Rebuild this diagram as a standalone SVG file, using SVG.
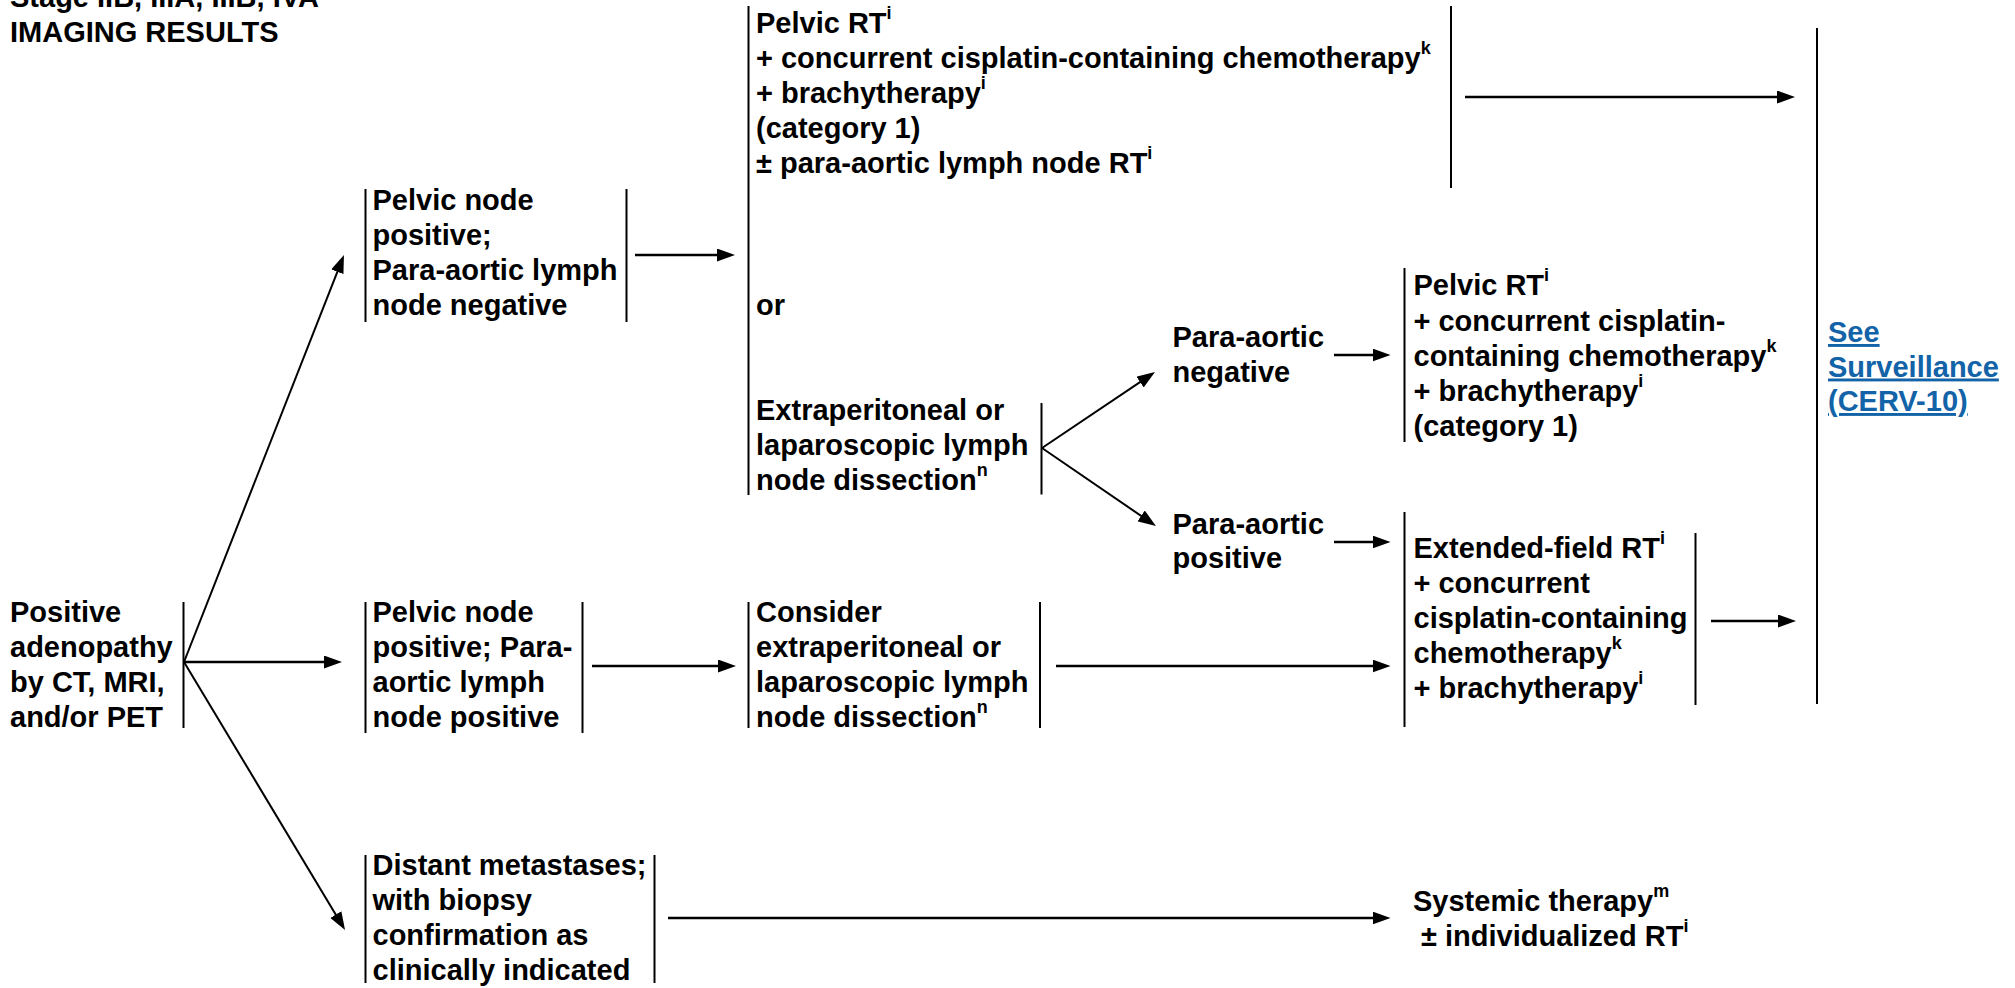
<svg xmlns="http://www.w3.org/2000/svg" width="2015" height="988" viewBox="0 0 2015 988">
<style>
.t { font-family: "Liberation Sans", Arial, Helvetica, sans-serif; font-weight: bold; font-size: 29px; fill: #000; }
.sup { font-size: 18px; }
.bar { stroke: #000; stroke-width: 2; fill: none; }
.arr { stroke: #000; stroke-width: 2.5; fill: none; marker-end: url(#ah); }
.diag { stroke-width: 2; }
.link { fill: #1263A8; text-decoration: underline; }
</style>
<defs>
<marker id="ah" markerUnits="userSpaceOnUse" markerWidth="18" markerHeight="13" refX="8" refY="6.5" orient="auto">
<path d="M0,0 L18,6.5 L0,13 z" fill="#000"/>
</marker>
</defs>
<rect x="0" y="0" width="2015" height="988" fill="#fff"/>

<g id="title" class="t">
<text x="10" y="7">Stage IIB, IIIA, IIIB, IVA</text>
<text x="10" y="42">IMAGING RESULTS</text>
</g>

<g id="node-positive-adenopathy">
<text class="t" x="10" y="622">Positive</text>
<text class="t" x="10" y="657">adenopathy</text>
<text class="t" x="10" y="692">by CT, MRI,</text>
<text class="t" x="10" y="727">and/or PET</text>
<line class="bar" x1="183.5" y1="602" x2="183.5" y2="728"/>
</g>

<g id="node-pa-negative">
<line class="bar" x1="365.5" y1="189" x2="365.5" y2="322"/>
<text class="t" x="372.5" y="210">Pelvic node</text>
<text class="t" x="372.5" y="245">positive;</text>
<text class="t" x="372.5" y="280">Para-aortic lymph</text>
<text class="t" x="372.5" y="315">node negative</text>
<line class="bar" x1="626.5" y1="189" x2="626.5" y2="322"/>
</g>

<g id="node-pa-positive">
<line class="bar" x1="365.5" y1="602" x2="365.5" y2="733"/>
<text class="t" x="372.5" y="622">Pelvic node</text>
<text class="t" x="372.5" y="657">positive; Para-</text>
<text class="t" x="372.5" y="692">aortic lymph</text>
<text class="t" x="372.5" y="727">node positive</text>
<line class="bar" x1="582.5" y1="602" x2="582.5" y2="733"/>
</g>

<g id="node-distant-metastases">
<line class="bar" x1="365.5" y1="855" x2="365.5" y2="983"/>
<text class="t" x="372.5" y="875">Distant metastases;</text>
<text class="t" x="372.5" y="910">with biopsy</text>
<text class="t" x="372.5" y="945">confirmation as</text>
<text class="t" x="372.5" y="980">clinically indicated</text>
<line class="bar" x1="654.5" y1="855" x2="654.5" y2="983"/>
</g>

<g id="node-pelvic-rt-options">
<line class="bar" x1="748.5" y1="6" x2="748.5" y2="495"/>
<text class="t" x="756" y="33">Pelvic RT<tspan class="sup" dy="-14">i</tspan></text>
<text class="t" x="756" y="68">+ concurrent cisplatin-containing chemotherapy<tspan class="sup" dy="-14">k</tspan></text>
<text class="t" x="756" y="103">+ brachytherapy<tspan class="sup" dy="-14">i</tspan></text>
<text class="t" x="756" y="138">(category 1)</text>
<text class="t" x="756" y="173">± para-aortic lymph node RT<tspan class="sup" dy="-14">i</tspan></text>
<line class="bar" x1="1451" y1="6" x2="1451" y2="188"/>
<text class="t" x="756" y="315">or</text>
</g>

<g id="node-extraperitoneal-dissection">
<text class="t" x="756" y="420">Extraperitoneal or</text>
<text class="t" x="756" y="455">laparoscopic lymph</text>
<text class="t" x="756" y="490">node dissection<tspan class="sup" dy="-14">n</tspan></text>
<line class="bar" x1="1041.5" y1="403" x2="1041.5" y2="494.5"/>
</g>

<g id="node-consider-dissection">
<line class="bar" x1="748.5" y1="602" x2="748.5" y2="728"/>
<text class="t" x="756" y="622">Consider</text>
<text class="t" x="756" y="657">extraperitoneal or</text>
<text class="t" x="756" y="692">laparoscopic lymph</text>
<text class="t" x="756" y="727">node dissection<tspan class="sup" dy="-14">n</tspan></text>
<line class="bar" x1="1040" y1="602" x2="1040" y2="728"/>
</g>

<g id="node-para-aortic-negative">
<text class="t" x="1172.5" y="347">Para-aortic</text>
<text class="t" x="1172.5" y="382">negative</text>
</g>

<g id="node-para-aortic-positive">
<text class="t" x="1172.5" y="533.5">Para-aortic</text>
<text class="t" x="1172.5" y="568">positive</text>
</g>

<g id="node-pelvic-rt">
<line class="bar" x1="1404.5" y1="268" x2="1404.5" y2="442"/>
<text class="t" x="1413.5" y="295">Pelvic RT<tspan class="sup" dy="-14">i</tspan></text>
<text class="t" x="1413.5" y="330.5">+ concurrent cisplatin-</text>
<text class="t" x="1413.5" y="366">containing chemotherapy<tspan class="sup" dy="-14">k</tspan></text>
<text class="t" x="1413.5" y="401">+ brachytherapy<tspan class="sup" dy="-14">i</tspan></text>
<text class="t" x="1413.5" y="436">(category 1)</text>
</g>

<g id="node-extended-field-rt">
<line class="bar" x1="1404.5" y1="512" x2="1404.5" y2="727"/>
<text class="t" x="1413.5" y="558">Extended-field RT<tspan class="sup" dy="-14">i</tspan></text>
<text class="t" x="1413.5" y="593">+ concurrent</text>
<text class="t" x="1413.5" y="628">cisplatin-containing</text>
<text class="t" x="1413.5" y="663">chemotherapy<tspan class="sup" dy="-14">k</tspan></text>
<text class="t" x="1413.5" y="698">+ brachytherapy<tspan class="sup" dy="-14">i</tspan></text>
<line class="bar" x1="1695.5" y1="533" x2="1695.5" y2="705"/>
</g>

<g id="node-systemic-therapy">
<text class="t" x="1413" y="911">Systemic therapy<tspan class="sup" dy="-14">m</tspan></text>
<text class="t" x="1421" y="946">± individualized RT<tspan class="sup" dy="-14">i</tspan></text>
</g>

<g id="node-surveillance">
<line class="bar" x1="1817" y1="28" x2="1817" y2="704"/>
<text class="t link" x="1828" y="342">See</text>
<text class="t link" x="1828" y="376.5">Surveillance</text>
<text class="t link" x="1828" y="411">(CERV-10)</text>
</g>

<g id="connectors">
<line class="arr diag" x1="184" y1="662" x2="340.3" y2="264.3"/>
<line class="arr" x1="184" y1="662" x2="332" y2="662"/>
<line class="arr diag" x1="184" y1="662" x2="339.9" y2="921.4"/>
<line class="arr" x1="635" y1="255" x2="725" y2="255"/>
<line class="arr" x1="1465" y1="97" x2="1785" y2="97"/>
<line class="arr diag" x1="1042" y1="448" x2="1146.7" y2="377.6"/>
<line class="arr diag" x1="1042" y1="448" x2="1147.7" y2="520.4"/>
<line class="arr" x1="1334" y1="355" x2="1380.5" y2="355"/>
<line class="arr" x1="1334" y1="542" x2="1380.5" y2="542"/>
<line class="arr" x1="592" y1="666" x2="726" y2="666"/>
<line class="arr" x1="1056" y1="666" x2="1380.5" y2="666"/>
<line class="arr" x1="1711" y1="621" x2="1786" y2="621"/>
<line class="arr" x1="668" y1="918" x2="1380.5" y2="918"/>
</g>
</svg>
